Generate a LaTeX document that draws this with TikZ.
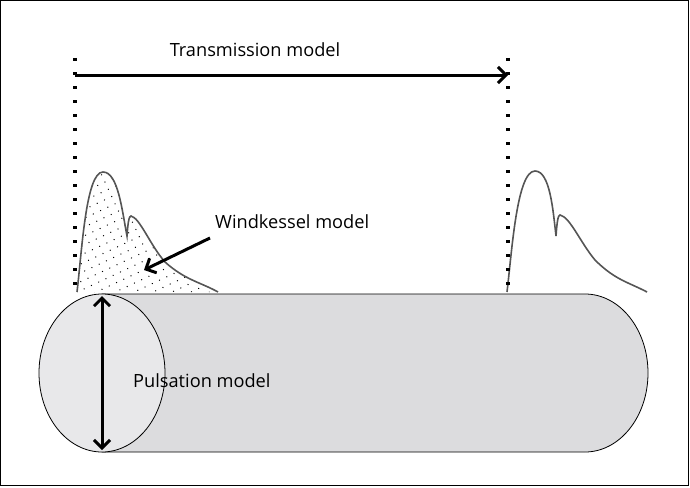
\documentclass[tikz,border=0pt]{standalone}
\usepackage{fontspec}
\setmainfont{Open Sans}
\usetikzlibrary{arrows.meta,patterns.meta}
\definecolor{bodygray}{HTML}{DCDCDE}
\definecolor{capgray}{HTML}{E8E8EA}
\definecolor{wavegray}{HTML}{555555}
\tikzset{
  lbl/.style={font=\fontsize{18.2}{20}\selectfont, inner sep=0pt},
  bigarrow/.style={line width=3pt, -{Straight Barb[length=8pt,width=16pt,line width=3pt]}},
  guide/.style={line width=3.2pt, dash pattern=on 3.2pt off 10.8pt},
  wave/.style={draw=wavegray, line width=1.6pt},
}
\begin{document}
\begin{tikzpicture}[x=1pt,y=-1pt]
\useasboundingbox (0,0) rectangle (690,487);
\draw[line width=1.2pt] (0.6,0.6) rectangle (688.6,485.6);
% waveforms
\path[pattern={Dots[radius=0.7pt,distance=8pt,angle=25]}, pattern color=black]
  (77,292) .. controls (82,250) and (86,172) .. (103,172)
  .. controls (118,172) and (122,210) .. (127,236)
  .. controls (128,222) and (129,216) .. (131,216)
  .. controls (140,218) and (150,245) .. (165,262)
  .. controls (185,280) and (200,282) .. (218,292) -- cycle;
\draw[wave] (77,292) .. controls (82,250) and (86,172) .. (103,172)
  .. controls (118,172) and (122,210) .. (127,236)
  .. controls (128,222) and (129,216) .. (131,216)
  .. controls (140,218) and (150,245) .. (165,262)
  .. controls (185,280) and (200,282) .. (218,292);
\draw[wave] (507,292) .. controls (512,250) and (517,171) .. (535,171)
  .. controls (550,171) and (553,210) .. (556,236)
  .. controls (557,222) and (558,215) .. (560,215)
  .. controls (570,217) and (580,242) .. (595,260)
  .. controls (615,280) and (628,282) .. (647,292);
% cylinder
\draw[fill=bodygray, line width=0.8pt] (102,294) -- (585,294)
  arc[start angle=-90, end angle=90, x radius=63, y radius=79] -- (102,452) -- cycle;
\draw[fill=capgray, line width=0.8pt] (102,373) ellipse [x radius=63, y radius=79];
\coordinate (ctop) at (102,296);
\coordinate (cbot) at (102,450);
\draw[line width=3pt, {Straight Barb[length=8pt,width=16pt,line width=3pt]}-{Straight Barb[length=8pt,width=16pt,line width=3pt]}] (ctop) -- (cbot);
% guides
\coordinate (gl1) at (75,58);
\coordinate (gl2) at (75,292);
\coordinate (gr1) at (508,58);
\coordinate (gr2) at (508,292);
\draw[guide] (gl1) -- (gl2);
\draw[guide] (gr1) -- (gr2);
% transmission arrow
\coordinate (ta) at (75,75);
\coordinate (tb) at (508,75);
\draw[bigarrow] (ta) -- (tb);
\node[lbl] (trans) at (255,50) {Transmission model};
\node[lbl, anchor=west] (wind) at (215,222) {Windkessel model};
\coordinate (wtip) at (144,270);
\draw[bigarrow] (210,238) -- (wtip);
\node[lbl, anchor=west] (puls) at (133,381) {Pulsation model};
\end{tikzpicture}
\end{document}
